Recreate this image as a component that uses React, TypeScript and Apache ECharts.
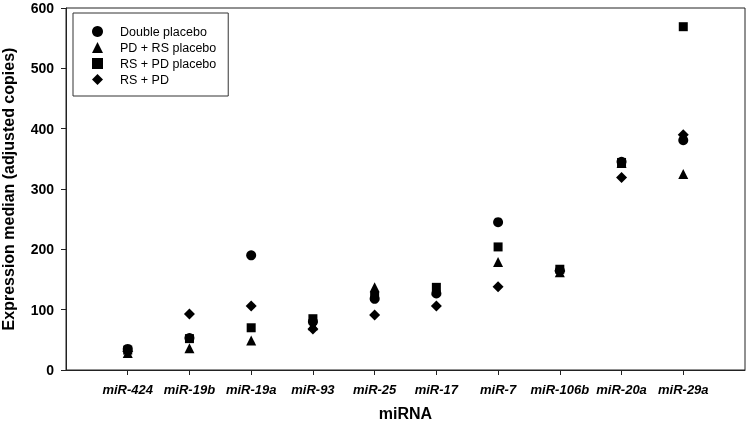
import React, { useEffect, useRef } from "react";
import * as echarts from "echarts";

const categories = ["miR-424", "miR-19b", "miR-19a", "miR-93", "miR-25", "miR-17", "miR-7", "miR-106b", "miR-20a", "miR-29a"];
const doublePlacebo = [35, 53, 190, 80, 118, 127, 245, 165, 345, 381];
const pdRsPlacebo = [28, 36, 49, 74, 137, 132, 179, 162, 343, 325];
const rsPdPlacebo = [33, 52, 70, 85, 122, 137, 204, 167, 344, 569];
const rsPd = [31, 93, 106, 68, 91, 106, 138, 164, 319, 390];
const yTicks = [0, 100, 200, 300, 400, 500, 600];

const FONT = "'Liberation Sans', Arial, Helvetica, sans-serif";

function toPoints(vals: number[]) {
  return vals.map((v, i) => [i + 1, v]);
}

export default function App() {
  const ref = useRef<HTMLDivElement>(null);
  useEffect(() => {
    if (!ref.current) return;
    const chart = echarts.init(ref.current, undefined, { renderer: "svg" });
    const positions = categories.map((_, i) => i + 1);
    const seriesDefs = [
      { name: "Double placebo", data: doublePlacebo, symbol: "circle", size: 10 },
      { name: "PD + RS placebo", data: pdRsPlacebo, symbol: "triangle", size: 10 },
      { name: "RS + PD placebo", data: rsPdPlacebo, symbol: "rect", size: 9 },
      { name: "RS + PD", data: rsPd, symbol: "diamond", size: 11 },
    ];
    chart.setOption({
      animation: false,
      textStyle: { fontFamily: FONT },
      grid: {
        left: 66,
        right: 3,
        top: 8,
        bottom: 57,
        containLabel: false,
        outerBoundsMode: "none",
        show: true,
        borderColor: "#222",
        borderWidth: 1,
        backgroundColor: "#fff",
      },
      legend: {
        orient: "vertical",
        left: 73,
        top: 13,
        padding: [12, 12, 10, 19],
        itemWidth: 11,
        itemHeight: 11,
        itemGap: 3,
        borderColor: "#333",
        borderWidth: 1,
        selectedMode: false,
        data: seriesDefs.map((s) => ({ name: s.name, itemStyle: { color: "#000", opacity: 1 } })),
        textStyle: { fontFamily: FONT, fontSize: 12.5, color: "#000", padding: [0, 0, 0, 12] },
      },
      xAxis: {
        type: "value",
        min: 0,
        max: 11,
        interval: 1,
        name: "miRNA",
        nameLocation: "middle",
        nameGap: 35,
        nameTextStyle: { fontFamily: FONT, fontSize: 16, fontWeight: "bold", color: "#000" },
        splitLine: { show: false },
        axisLine: { lineStyle: { color: "#222", width: 1 } },
        axisTick: { show: true, inside: false, length: 5, customValues: positions, lineStyle: { color: "#222" } },
        axisLabel: {
          customValues: positions,
          margin: 13,
          fontFamily: FONT,
          fontSize: 13,
          fontWeight: "bold",
          fontStyle: "italic",
          color: "#000",
          formatter: (v: number) => {
            const idx = Math.round(v) - 1;
            return idx >= 0 && idx < categories.length ? categories[idx] : "";
          },
        },
      },
      yAxis: {
        type: "value",
        min: 0,
        max: 600,
        interval: 100,
        name: "Expression median (adjusted copies)",
        nameLocation: "middle",
        nameGap: 50,
        nameTextStyle: { fontFamily: FONT, fontSize: 16, fontWeight: "bold", color: "#000" },
        splitLine: { show: false },
        axisLine: { show: true, lineStyle: { color: "#222", width: 1 } },
        axisTick: { show: true, inside: false, length: 5, lineStyle: { color: "#222" } },
        axisLabel: {
          margin: 12,
          fontFamily: FONT,
          fontSize: 14,
          fontWeight: "bold",
          color: "#000",
          customValues: yTicks,
        },
      },
      series: seriesDefs.map((s) => ({
        name: s.name,
        type: "scatter",
        symbol: s.symbol,
        symbolSize: s.size,
        data: toPoints(s.data),
        itemStyle: { color: "#000", opacity: 1 },
      })),
    });
    return () => chart.dispose();
  }, []);
  return <div ref={ref} style={{ position: "fixed", left: 0, top: 0, width: 748, height: 427 }} />;
}
